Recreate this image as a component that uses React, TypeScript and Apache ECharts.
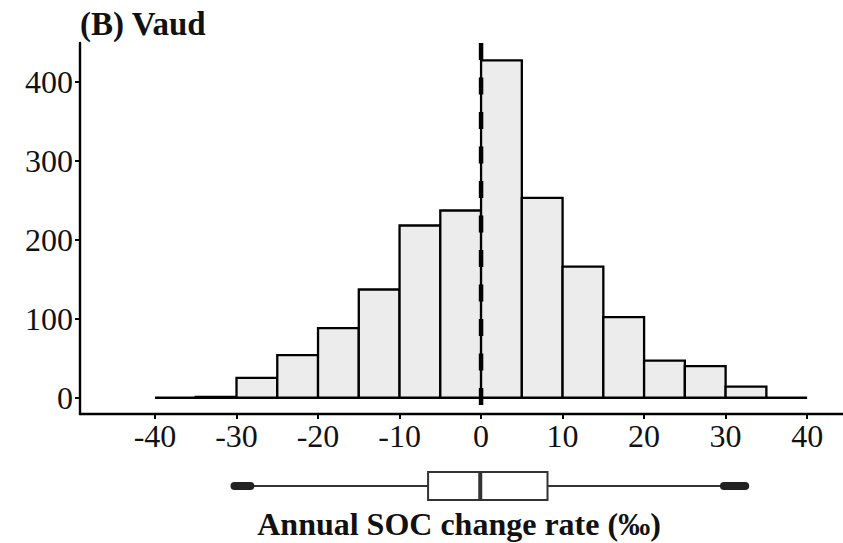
import { useEffect, useRef } from "react";
import * as echarts from "echarts";

// Histogram data (bin width 5)
const binStarts = [-40, -35, -30, -25, -20, -15, -10, -5, 0, 5, 10, 15, 20, 25, 30, 35];
const binWidth = 5;
const counts = [0, 1, 25, 54, 88, 137, 218, 237, 427, 253, 166, 102, 47, 40, 14, 0];
const xTicks = [-40, -30, -20, -10, 0, 10, 20, 30, 40];
const yTicks = [0, 100, 200, 300, 400];
const refLineX = 0;

// Boxplot summary: whisker low, Q1, median, Q3, whisker high
const boxStats = [-28.3, -6.5, -0.1, 8.15, 29.8];
const lowOutlierRange = [-30.25, -28.3];
const highOutlierRange = [29.8, 32.4];

const titleText = "(B) Vaud";
const xTitle = "Annual SOC change rate (‰)";

const X_MIN = -49.2;
const X_MAX = 44.4;
const Y_MIN = -20.6;
const Y_MAX = 449;

const FONT = "'Liberation Serif', 'Times New Roman', serif";

export default function App() {
  const ref = useRef<HTMLDivElement>(null);
  useEffect(() => {
    if (!ref.current) return;
    const chart = echarts.init(ref.current, null, { renderer: "svg" });
    const histData = binStarts.map((s, i) => [s, s + binWidth, counts[i]]);
    const option: any = {
      animation: false,
      backgroundColor: "#ffffff",
      grid: [
        { left: 80, top: 43, width: 763, height: 371 },
        { left: 80, top: 472, width: 763, height: 28 },
      ],
      xAxis: [
        {
          type: "value",
          gridIndex: 0,
          min: X_MIN,
          max: X_MAX,
          splitLine: { show: false },
          axisLine: { show: true, onZero: false, lineStyle: { color: "#000", width: 2.4 } },
          axisTick: { show: true, customValues: xTicks, length: 5, lineStyle: { color: "#000", width: 2 } },
          axisLabel: {
            show: true,
            customValues: xTicks,
            margin: 6,
            color: "#111",
            fontFamily: FONT,
            fontSize: 32,
            formatter: (v: number) => String(v),
          },
        },
        {
          type: "value",
          gridIndex: 1,
          min: X_MIN,
          max: X_MAX,
          show: false,
        },
      ],
      yAxis: [
        {
          type: "value",
          gridIndex: 0,
          min: Y_MIN,
          max: Y_MAX,
          splitLine: { show: false },
          axisLine: { show: true, onZero: false, lineStyle: { color: "#000", width: 2.4 } },
          axisTick: { show: true, customValues: yTicks, length: 5, lineStyle: { color: "#000", width: 2 } },
          axisLabel: {
            show: true,
            customValues: yTicks,
            margin: 7,
            color: "#111",
            fontFamily: FONT,
            fontSize: 32,
          },
        },
        { type: "value", gridIndex: 1, min: 0, max: 1, show: false },
      ],
      series: [
        {
          type: "custom",
          xAxisIndex: 0,
          yAxisIndex: 0,
          data: histData,
          encode: { x: [0, 1], y: 2 },
          renderItem: (params: any, api: any) => {
            const p0 = api.coord([api.value(0), api.value(2)]);
            const p1 = api.coord([api.value(1), 0]);
            return {
              type: "rect",
              shape: { x: p0[0], y: p0[1], width: p1[0] - p0[0], height: p1[1] - p0[1] },
              style: { fill: "#ececec", stroke: "#000", lineWidth: 2.3 },
            };
          },
          z: 2,
        },
        {
          type: "line",
          xAxisIndex: 0,
          yAxisIndex: 0,
          data: [
            [refLineX, Y_MAX],
            [refLineX, Y_MIN],
          ],
          symbol: "none",
          lineStyle: { color: "#000", width: 4.5, type: [17, 17.5] },
          z: 5,
        },
        {
          type: "custom",
          xAxisIndex: 1,
          yAxisIndex: 1,
          data: [[...boxStats, ...lowOutlierRange, ...highOutlierRange]],
          renderItem: (params: any, api: any) => {
            const v = (i: number) => api.value(i);
            const yTop = api.coord([0, 1])[1];
            const yBot = api.coord([0, 0])[1];
            const yMid = api.coord([0, 0.5])[1];
            const x = (val: number) => api.coord([val, 0.5])[0];
            return {
              type: "group",
              children: [
                {
                  type: "line",
                  shape: { x1: x(v(0)), y1: yMid, x2: x(v(1)), y2: yMid },
                  style: { stroke: "#333", lineWidth: 2 },
                },
                {
                  type: "line",
                  shape: { x1: x(v(3)), y1: yMid, x2: x(v(4)), y2: yMid },
                  style: { stroke: "#333", lineWidth: 2 },
                },
                {
                  type: "rect",
                  shape: { x: x(v(1)), y: yTop, width: x(v(3)) - x(v(1)), height: yBot - yTop },
                  style: { fill: "#fff", stroke: "#333", lineWidth: 2 },
                },
                {
                  type: "line",
                  shape: { x1: x(v(2)), y1: yTop, x2: x(v(2)), y2: yBot },
                  style: { stroke: "#333", lineWidth: 4 },
                },
                {
                  type: "line",
                  shape: { x1: x(v(5)), y1: yMid, x2: x(v(6)), y2: yMid },
                  style: { stroke: "#222", lineWidth: 8, lineCap: "round" },
                },
                {
                  type: "line",
                  shape: { x1: x(v(7)), y1: yMid, x2: x(v(8)), y2: yMid },
                  style: { stroke: "#222", lineWidth: 8, lineCap: "round" },
                },
              ],
            };
          },
        },
      ],
      graphic: [
        {
          type: "text",
          left: 80,
          top: 7,
          style: { text: titleText, fontFamily: FONT, fontWeight: "bold", fontSize: 33, fill: "#111" },
        },
        {
          type: "text",
          x: 459,
          y: 524,
          style: {
            text: xTitle,
            fontFamily: FONT,
            fontWeight: "bold",
            fontSize: 32,
            fill: "#111",
            textAlign: "center",
            textVerticalAlign: "middle",
          },
        },
      ],
    };
    chart.setOption(option);
    return () => chart.dispose();
  }, []);
  return (
    <div
      ref={ref}
      style={{ position: "fixed", left: 0, top: 0, width: 843, height: 543, background: "#fff" }}
    />
  );
}
